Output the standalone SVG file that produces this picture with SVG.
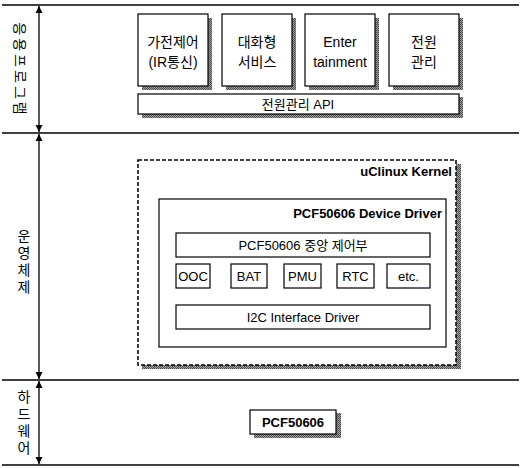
<svg xmlns="http://www.w3.org/2000/svg" width="521" height="468" viewBox="0 0 521 468">
<defs>
<pattern id="hatch" width="2" height="2" patternUnits="userSpaceOnUse">
<rect width="2" height="2" fill="#a0a0a0"/>
<rect width="1" height="1" fill="#444"/>
<rect x="1" y="1" width="1" height="1" fill="#555"/>
</pattern>
<marker id="arr" viewBox="0 0 10 10" refX="10" refY="5" markerWidth="7" markerHeight="8" orient="auto-start-reverse" markerUnits="userSpaceOnUse">
<path d="M0,0 L10,5 L0,10 Z" fill="#000"/>
</marker>
<style>
.sep{stroke:#000;stroke-width:1.5;fill:none}
.arrline{stroke:#000;stroke-width:1.3;fill:none}
.shadow{fill:url(#hatch)}
.box{fill:#fff;stroke:#000;stroke-width:1.2}
.dash{fill:#fff;stroke:#000;stroke-width:1.5;stroke-dasharray:4 2}
.t{font-family:"Liberation Sans","Noto Sans CJK KR",sans-serif;font-size:14px;fill:#000;text-anchor:middle}
.k{font-family:"Liberation Sans","Noto Sans CJK KR",sans-serif;font-size:13px;fill:#000;text-anchor:middle}
.b{font-family:"Liberation Sans","Noto Sans CJK KR",sans-serif;font-size:13px;font-weight:bold;fill:#000}
.side{font-family:"Noto Sans CJK KR",sans-serif;font-size:14px;fill:#000;text-anchor:middle}
.vert{writing-mode:vertical-rl;text-orientation:upright}
</style>
</defs>

<g id="connectors">
<line class="sep" x1="2" y1="5" x2="519" y2="5"/>
<line class="sep" x1="2" y1="133" x2="519" y2="133"/>
<line class="sep" x1="2" y1="380" x2="519" y2="380"/>
<line class="sep" x1="2" y1="465" x2="519" y2="465"/>
<line class="arrline" x1="39" y1="6" x2="39" y2="132" marker-start="url(#arr)" marker-end="url(#arr)"/>
<line class="arrline" x1="39" y1="134" x2="39" y2="379" marker-start="url(#arr)" marker-end="url(#arr)"/>
<line class="arrline" x1="39" y1="381" x2="39" y2="464" marker-start="url(#arr)" marker-end="url(#arr)"/>
</g>

<g id="label-app">
<text class="side" transform="translate(21,70) rotate(90)" dominant-baseline="central" letter-spacing="3">응용프로그램</text>
</g>
<g id="label-os">
<text class="side vert" x="24" y="263" font-size="13" letter-spacing="3">운영체제</text>
</g>
<g id="label-hw">
<text class="side vert" x="24" y="424" letter-spacing="3">하드웨어</text>
</g>

<g id="app1">
<rect class="shadow" x="142" y="18" width="70" height="72"/>
<rect class="box" x="138" y="14" width="70" height="72"/>
<text class="t" x="173" y="47">가전제어</text>
<text class="t" x="173" y="67">(IR통신)</text>
</g>
<g id="app2">
<rect class="shadow" x="226" y="18" width="70" height="72"/>
<rect class="box" x="222" y="14" width="70" height="72"/>
<text class="t" x="257" y="47">대화형</text>
<text class="t" x="257" y="67">서비스</text>
</g>
<g id="app3">
<rect class="shadow" x="309" y="18" width="70" height="72"/>
<rect class="box" x="305" y="14" width="70" height="72"/>
<text class="t" x="340" y="47">Enter</text>
<text class="t" x="340" y="67">tainment</text>
</g>
<g id="app4">
<rect class="shadow" x="393" y="18" width="70" height="72"/>
<rect class="box" x="389" y="14" width="70" height="72"/>
<text class="t" x="424" y="47">전원</text>
<text class="t" x="424" y="67">관리</text>
</g>
<g id="api">
<rect class="shadow" x="142" y="97" width="321" height="21"/>
<rect class="box" x="138" y="94" width="321" height="20"/>
<text class="k" x="298" y="109">전원관리 API</text>
</g>

<g id="kernel">
<rect class="shadow" x="142" y="164" width="319" height="205"/>
<rect class="dash" x="138" y="160" width="318" height="205"/>
<text class="b" x="452" y="176" text-anchor="end" font-size="12.5">uClinux Kernel</text>
</g>
<g id="driver">
<rect class="box" x="159" y="199" width="287" height="148"/>
<text class="b" x="442" y="218" text-anchor="end">PCF50606 Device Driver</text>
</g>
<g id="ctrl">
<rect class="box" x="176" y="233" width="254" height="24"/>
<text class="k" x="303" y="250">PCF50606 중앙 제어부</text>
</g>
<g id="ooc">
<rect class="box" x="176" y="264" width="34" height="24"/>
<text class="k" x="193" y="281">OOC</text>
</g>
<g id="bat">
<rect class="box" x="231" y="264" width="36" height="24"/>
<text class="k" x="249" y="281">BAT</text>
</g>
<g id="pmu">
<rect class="box" x="284" y="264" width="37" height="24"/>
<text class="k" x="302.5" y="281">PMU</text>
</g>
<g id="rtc">
<rect class="box" x="337" y="264" width="37" height="24"/>
<text class="k" x="355.5" y="281">RTC</text>
</g>
<g id="etc">
<rect class="box" x="387" y="264" width="43" height="24"/>
<text class="k" x="408.5" y="281">etc.</text>
</g>
<g id="i2c">
<rect class="box" x="176" y="305" width="254" height="24"/>
<text class="k" x="303" y="322">I2C Interface Driver</text>
</g>

<g id="pcf">
<rect class="shadow" x="254" y="413" width="87" height="25"/>
<rect class="box" x="250" y="410" width="86" height="24"/>
<text class="b" x="293" y="427" text-anchor="middle">PCF50606</text>
</g>
</svg>
